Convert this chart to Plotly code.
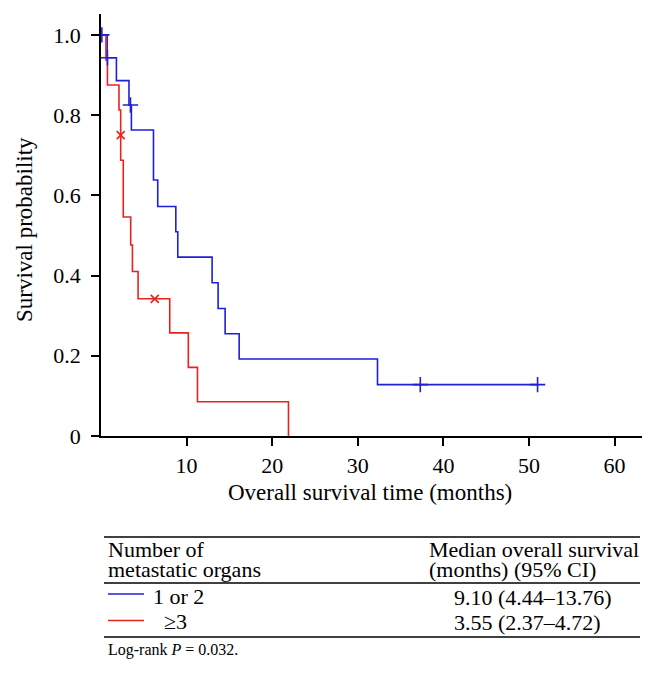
import plotly.graph_objects as go

# Kaplan-Meier steps
blue_time = [0, 0.72, 1.8, 3.27, 3.55, 6.13, 6.63, 8.74, 8.97, 12.98, 13.68, 14.5, 16.14, 32.3, 51.0]
blue_surv = [1.0, 0.943, 0.886, 0.825, 0.763, 0.638, 0.572, 0.509, 0.446, 0.382, 0.318, 0.255, 0.192, 0.128, 0.128]
blue_cens_time = [0.1, 0.75, 3.44, 37.3, 51.0]
blue_cens_surv = [1.0, 0.943, 0.825, 0.128, 0.128]

red_time = [0, 0.58, 0.75, 2.1, 2.3, 2.6, 3.47, 3.67, 4.33, 8.03, 10.2, 11.27, 21.9]
red_surv = [1.0, 0.9375, 0.875, 0.8125, 0.6875, 0.546, 0.476, 0.41, 0.342, 0.257, 0.171, 0.0855, 0.0]
red_cens_time = [2.3, 6.28]
red_cens_surv = [0.75, 0.342]

x_ticks = [10, 20, 30, 40, 50, 60]
y_ticks = [0, 0.2, 0.4, 0.6, 0.8, 1.0]
y_tick_labels = ["0", "0.2", "0.4", "0.6", "0.8", "1.0"]

groups = ["1 or 2", "\u22653"]
medians = ["9.10 (4.44\u201313.76)", "3.55 (2.37\u20134.72)"]

blue = "#1f1fd8"
red = "#e8231f"
font = "Liberation Serif"

# plot area in pixels
left, right, top, bottom = 101, 642, 14, 436


def px(x):
    return (x - left) / (right - left)


def py(y):
    return (bottom - y) / (bottom - top)


fig = go.Figure()
fig.add_trace(go.Scatter(x=blue_time, y=blue_surv, mode="lines", line_shape="hv",
                         line={"color": blue, "width": 1.6}))
fig.add_trace(go.Scatter(x=red_time, y=red_surv, mode="lines", line_shape="hv",
                         line={"color": red, "width": 1.6}))
fig.add_trace(go.Scatter(x=blue_cens_time, y=blue_cens_surv, mode="markers",
                         marker={"symbol": "cross-thin", "size": 11,
                                 "line": {"color": blue, "width": 1.6}}))
fig.add_trace(go.Scatter(x=red_cens_time, y=red_cens_surv, mode="markers",
                         marker={"symbol": "x-thin", "size": 8,
                                 "line": {"color": red, "width": 1.6}}))

axis_common = dict(showline=True, linecolor="black", linewidth=1.5, ticks="outside",
                   ticklen=8, tickwidth=1.5, tickcolor="black", showgrid=False,
                   zeroline=False, tickfont={"family": font, "size": 22, "color": "black"})
fig.update_xaxes(range=[0, 63.2], tickvals=x_ticks, ticklabelstandoff=1, **axis_common)
fig.update_yaxes(range=[0, 1.052], tickvals=y_ticks, ticktext=y_tick_labels,
                 ticklabelstandoff=6, **axis_common)

annotations = [
    dict(x=px(370), y=py(492), text="Overall survival time (months)", font={"size": 23}),
    dict(x=px(25), y=py(230), text="Survival probability", textangle=-90, font={"size": 23}),
    dict(x=px(106), y=py(549), text="Number of", xanchor="left"),
    dict(x=px(106), y=py(569), text="metastatic organs", xanchor="left"),
    dict(x=px(427), y=py(549), text="Median overall survival", xanchor="left"),
    dict(x=px(427), y=py(569), text="(months) (95% CI)", xanchor="left"),
    dict(x=px(151), y=py(596), text=groups[0], xanchor="left"),
    dict(x=px(162), y=py(621), text=groups[1], xanchor="left"),
    dict(x=px(452), y=py(597), text=medians[0], xanchor="left"),
    dict(x=px(452), y=py(622), text=medians[1], xanchor="left"),
    dict(x=px(106), y=py(650), text="Log-rank <i>P</i> = 0.032.", xanchor="left",
         font={"size": 16}),
]
for a in annotations:
    a.setdefault("xanchor", "center")
    a["font"] = {"family": font, "color": "black", "size": a.get("font", {}).get("size", 22)}
    fig.add_annotation(xref="paper", yref="paper", yanchor="middle", showarrow=False, **a)

shapes = []
for y in [537, 583, 637]:
    shapes.append(dict(type="line", xref="paper", yref="paper", x0=px(104), x1=px(640),
                       y0=py(y), y1=py(y), line={"color": "black", "width": 1.6}))
for y, c in [(594, blue), (620.5, red)]:
    shapes.append(dict(type="line", xref="paper", yref="paper", x0=px(108), x1=px(144),
                       y0=py(y), y1=py(y), line={"color": c, "width": 1.6}))

fig.update_layout(
    width=656,
    height=673,
    margin={"l": left, "r": 656 - right, "t": top, "b": 673 - bottom},
    plot_bgcolor="white",
    paper_bgcolor="white",
    showlegend=False,
    shapes=shapes,
    font={"family": font, "color": "black"},
)

fig.write_html("out.html", config={"displayModeBar": False},
               post_script="document.body.style.margin = '0';")
